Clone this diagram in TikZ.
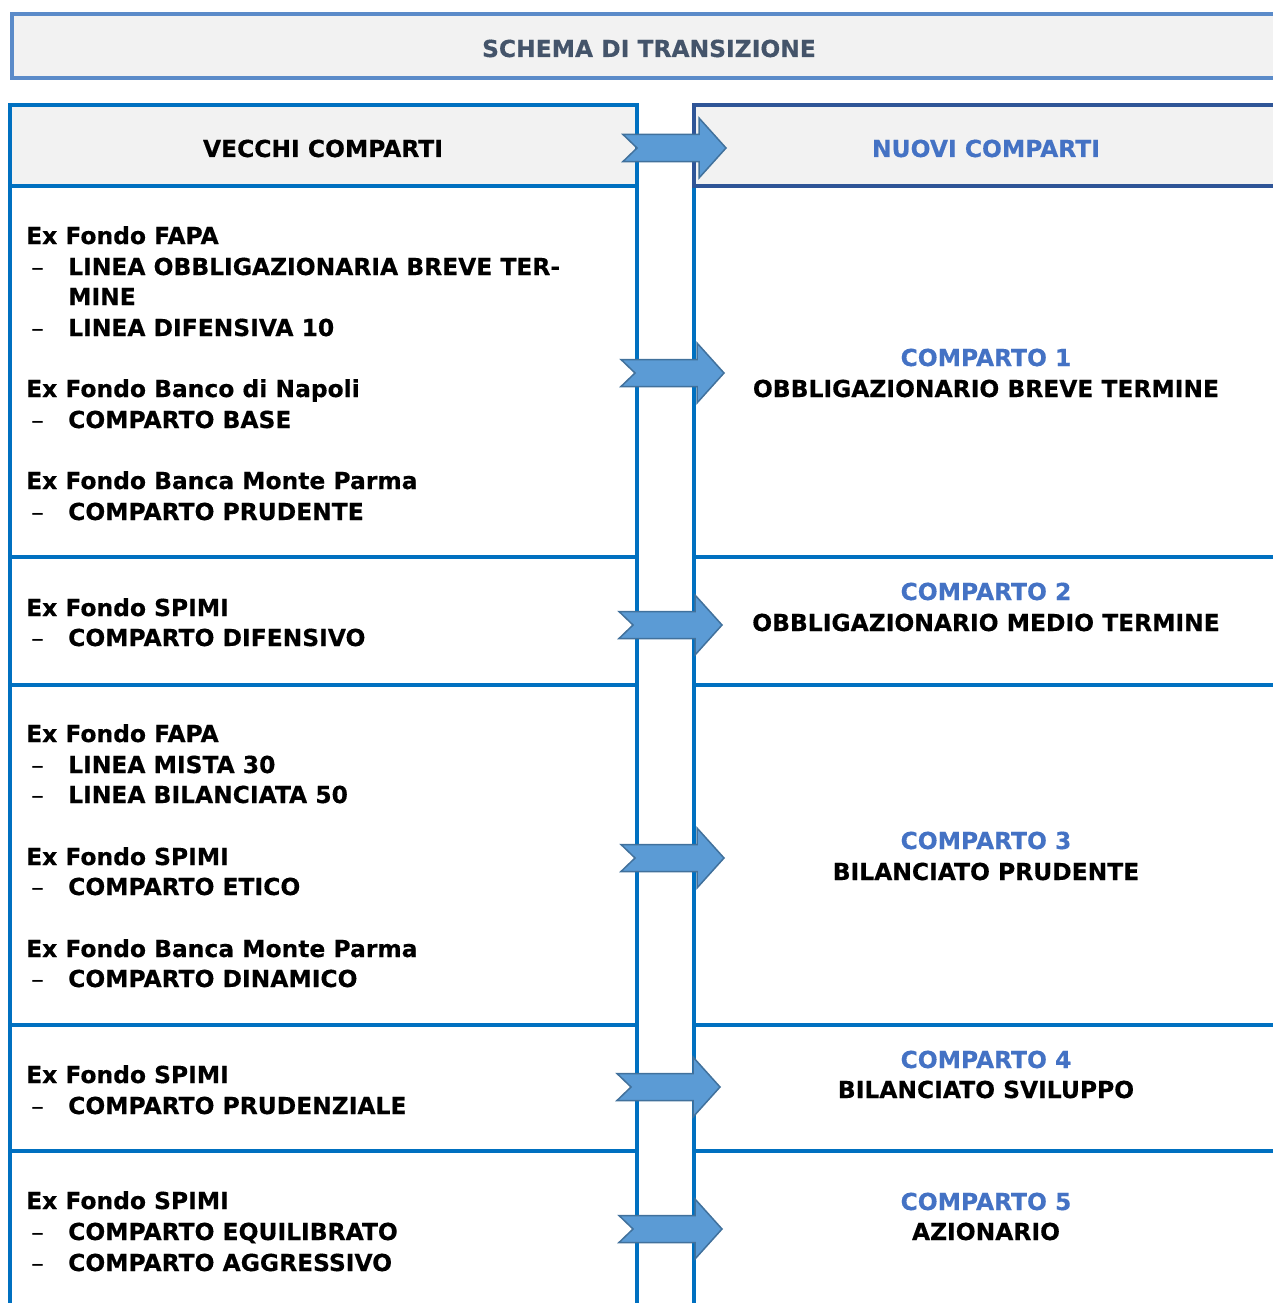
\documentclass[tikz,border=0pt]{standalone}
\usepackage{fontspec}
\setmainfont{DejaVu Sans}[BoldFeatures={FakeBold=0.4}]
\usetikzlibrary{positioning}

\definecolor{bordoblu}{HTML}{0070C0}
\definecolor{bordoscuro}{HTML}{2F5597}
\definecolor{bordotitolo}{HTML}{5B8BC9}
\definecolor{fondogrigio}{HTML}{F2F2F2}
\definecolor{testotitolo}{HTML}{44546A}
\definecolor{testoblu}{HTML}{4472C4}
\definecolor{frecciafill}{HTML}{5B9BD5}
\definecolor{frecciabordo}{HTML}{41719C}

\tikzset{
  testo/.style={font=\bfseries\fontsize{23.4}{30}\selectfont, inner sep=0pt},
  fondo/.style={testo, anchor=base west},
  voce/.style={testo, anchor=base west},
  trattino/.style={font=\fontsize{26}{30}\selectfont, inner sep=0pt, anchor=base west},
  nuovo/.style={testo, anchor=base},
  comparto/.style={testo, anchor=base, text=testoblu},
  riga/.style={draw=bordoblu, line width=4pt},
  freccia/.pic={
    \draw[fill=frecciafill, draw=frecciabordo, line width=1.5pt, line join=miter]
      (0,-13.5) -- (76,-13.5) -- (76,-30) -- (103,0) -- (76,30) -- (76,13.5)
      -- (0,13.5) -- (14,0) -- cycle;
  }
}

\begin{document}
\begin{tikzpicture}[x=1pt, y=-1pt]
\useasboundingbox (0,0) rectangle (1272,1303);

% titolo
\draw[fill=fondogrigio, draw=bordotitolo, line width=4.5pt] (12,14) rectangle (1300,78);
\node[testo, anchor=base, text=testotitolo] (titolo) at (649,57) {SCHEMA DI TRANSIZIONE};

% intestazioni
\draw[fill=fondogrigio, draw=bordoblu, line width=4pt] (10,105) rectangle (637,186);
\draw[fill=fondogrigio, draw=bordoscuro, line width=4pt] (1300,105) -- (694,105) -- (694,186) -- (1300,186);
\node[testo, anchor=base] (vecchi) at (323,157) {VECCHI COMPARTI};
\node[testo, anchor=base, text=testoblu] (nuovi) at (986,157) {NUOVI COMPARTI};

% colonne e righe
\draw[riga] (10,186) -- (10,1310);
\draw[riga] (637,186) -- (637,1310);
\draw[riga] (694,188) -- (694,1310);
\foreach \y in {557,685,1025,1151} {
  \draw[riga] (10,\y) -- (637,\y);
  \draw[riga] (694,\y) -- (1300,\y);
}

% vecchi comparti
\node[fondo] (f1) at (26,244) {Ex Fondo FAPA};
\node[trattino] (t1) at (31,276) {\textendash};
\node[voce] (v1) at (68,275) {LINEA OBBLIGAZIONARIA BREVE TER-};
\node[voce] (v1b) at (68,305) {MINE};
\node[trattino] (t2) at (31,337) {\textendash};
\node[voce] (v2) at (68,336) {LINEA DIFENSIVA 10};
\node[fondo] (f2) at (26,397) {Ex Fondo Banco di Napoli};
\node[trattino] (t3) at (31,429) {\textendash};
\node[voce] (v3) at (68,428) {COMPARTO BASE};
\node[fondo] (f3) at (26,489) {Ex Fondo Banca Monte Parma};
\node[trattino] (t4) at (31,521) {\textendash};
\node[voce] (v4) at (68,520) {COMPARTO PRUDENTE};

\node[fondo] (f4) at (26,616) {Ex Fondo SPIMI};
\node[trattino] (t5) at (31,647) {\textendash};
\node[voce] (v5) at (68,646) {COMPARTO DIFENSIVO};

\node[fondo] (f5) at (26,742) {Ex Fondo FAPA};
\node[trattino] (t6) at (31,774) {\textendash};
\node[voce] (v6) at (68,773) {LINEA MISTA 30};
\node[trattino] (t7) at (31,804) {\textendash};
\node[voce] (v7) at (68,803) {LINEA BILANCIATA 50};
\node[fondo] (f6) at (26,865) {Ex Fondo SPIMI};
\node[trattino] (t8) at (31,896) {\textendash};
\node[voce] (v8) at (68,895) {COMPARTO ETICO};
\node[fondo] (f7) at (26,957) {Ex Fondo Banca Monte Parma};
\node[trattino] (t9) at (31,988) {\textendash};
\node[voce] (v9) at (68,987) {COMPARTO DINAMICO};

\node[fondo] (f8) at (26,1083) {Ex Fondo SPIMI};
\node[trattino] (t10) at (31,1115) {\textendash};
\node[voce] (v10) at (68,1114) {COMPARTO PRUDENZIALE};

\node[fondo] (f9) at (26,1209) {Ex Fondo SPIMI};
\node[trattino] (t11) at (31,1241) {\textendash};
\node[voce] (v11) at (68,1240) {COMPARTO EQUILIBRATO};
\node[trattino] (t12) at (31,1272) {\textendash};
\node[voce] (v12) at (68,1271) {COMPARTO AGGRESSIVO};

% nuovi comparti
\node[comparto] (c1) at (986,366) {COMPARTO 1};
\node[nuovo] (n1) at (986,397) {OBBLIGAZIONARIO BREVE TERMINE};
\node[comparto] (c2) at (986,600) {COMPARTO 2};
\node[nuovo] (n2) at (986,631) {OBBLIGAZIONARIO MEDIO TERMINE};
\node[comparto] (c3) at (986,849) {COMPARTO 3};
\node[nuovo] (n3) at (986,880) {BILANCIATO PRUDENTE};
\node[comparto] (c4) at (986,1068) {COMPARTO 4};
\node[nuovo] (n4) at (986,1098) {BILANCIATO SVILUPPO};
\node[comparto] (c5) at (986,1210) {COMPARTO 5};
\node[nuovo] (n5) at (986,1240) {AZIONARIO};

% frecce
\pic at (623,148) {freccia};
\pic at (621,373) {freccia};
\pic at (619,625) {freccia};
\pic at (621,858) {freccia};
\pic at (617,1087) {freccia};
\pic at (619,1229) {freccia};
\end{tikzpicture}
\end{document}
